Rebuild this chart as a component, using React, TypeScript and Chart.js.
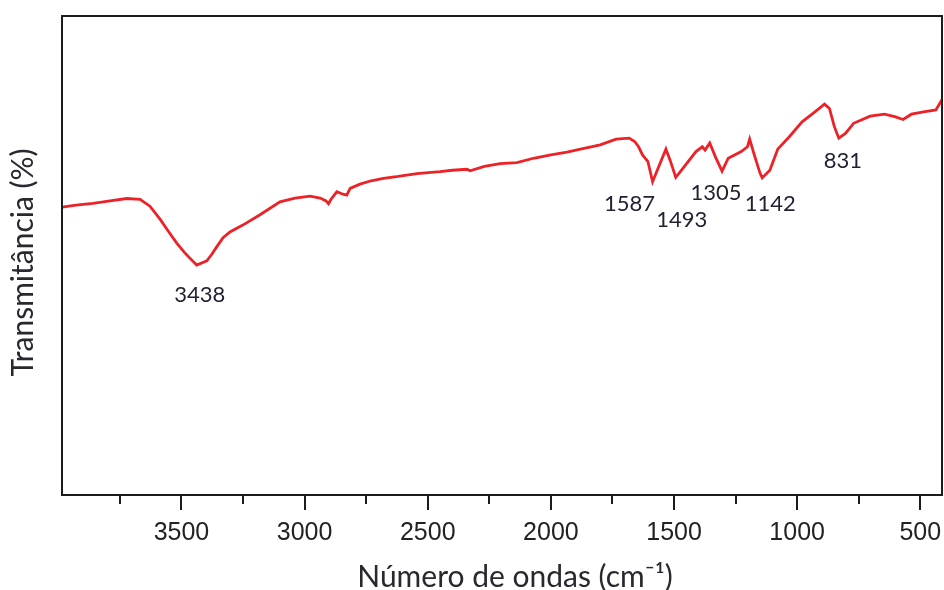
import { useEffect, useRef } from 'react';
import { Chart, registerables } from 'chart.js';

Chart.register(...registerables);

// FTIR spectrum: wavenumber (cm-1) and transmittance (arbitrary %, no scale shown)
const wavenumber = [
  3985, 3928, 3859, 3790, 3722, 3668, 3628, 3587, 3554, 3519, 3489, 3465, 3438,
  3397, 3376, 3357, 3331, 3303, 3249, 3181, 3100, 3039, 2978, 2937, 2913, 2903,
  2892, 2869, 2844, 2829, 2815, 2775, 2730, 2680, 2620, 2544, 2450, 2400, 2341,
  2328, 2270, 2206, 2138, 2071, 2000, 1935, 1870, 1800, 1735, 1682, 1660, 1644,
  1628, 1606, 1587, 1557, 1533, 1516, 1493, 1464, 1411, 1385, 1374, 1355, 1332,
  1305, 1280, 1227, 1202, 1193, 1176, 1151, 1142, 1111, 1079, 1032, 980, 928,
  889, 869, 849, 831, 804, 771, 704, 646, 604, 570, 536, 487, 437, 412,
];
const transmittance = [
  60.1, 60.5, 60.9, 61.4, 61.9, 61.7, 60.3, 57.6, 55.1, 52.6, 50.7, 49.4, 48.0,
  48.9, 50.3, 51.8, 53.7, 54.9, 56.4, 58.5, 61.2, 62.0, 62.4, 62.0, 61.4, 60.8,
  61.8, 63.3, 62.8, 62.6, 64.0, 64.9, 65.6, 66.1, 66.5, 67.1, 67.5, 67.8, 68.0,
  67.7, 68.6, 69.2, 69.4, 70.3, 71.0, 71.6, 72.3, 73.1, 74.3, 74.5, 73.8, 72.7,
  71.0, 69.6, 65.4, 69.2, 72.2, 69.9, 66.3, 68.2, 71.7, 72.7, 72.0, 73.5, 70.6,
  67.6, 70.3, 71.7, 72.7, 74.3, 71.3, 67.2, 66.2, 67.8, 72.2, 74.8, 77.9, 80.0,
  81.6, 80.7, 76.9, 74.5, 75.5, 77.6, 79.1, 79.5, 79.0, 78.4, 79.5, 80.0, 80.4, 82.5,
];

// Assigned absorption bands (cm-1)
const peakWavenumbers = [3438, 1587, 1493, 1305, 1142, 831];

// Axis ticks: every 250 cm-1, labelled every 500 cm-1
const xTickValues = [3750, 3500, 3250, 3000, 2750, 2500, 2250, 2000, 1750, 1500, 1250, 1000, 750, 500];

const xRange = { min: 412, max: 3985 };
const yRange = { min: 0, max: 100 };

const xTitle = 'Número de ondas (cm⁻¹)';
const yTitle = 'Transmitância (%)';

// Where each band label sits relative to its minimum (px)
const peakLabelOffsets: [number, number][] = [
  [3, 30], [-23, 22], [6, 42], [-6, 22], [8, 26], [4, 23],
];

const titleFont = '30px Lato, "Open Sans", sans-serif';
const titleColor = '#28282f';

const framePlugin = {
  id: 'frameAndTicks',
  afterDraw(chart: any) {
    const { ctx, chartArea: a, scales } = chart;
    const xs = scales.x;
    ctx.save();
    ctx.strokeStyle = '#1c1c1c';
    ctx.lineWidth = 2;
    ctx.strokeRect(a.left, a.top, a.right - a.left, a.bottom - a.top);
    xs.ticks.forEach((t: any) => {
      const px = Math.round(xs.getPixelForValue(t.value));
      const len = t.value % 500 === 0 ? 15 : 9;
      ctx.beginPath();
      ctx.moveTo(px, a.bottom);
      ctx.lineTo(px, a.bottom + len);
      ctx.stroke();
    });
    ctx.restore();
  },
};

const axisTitlePlugin = {
  id: 'axisTitles',
  afterDraw(chart: any) {
    const { ctx, chartArea: a } = chart;
    ctx.save();
    ctx.font = titleFont;
    ctx.fillStyle = titleColor;
    ctx.textAlign = 'center';
    ctx.textBaseline = 'alphabetic';
    ctx.fillText(xTitle, (a.left + a.right) / 2 + 13, 587);
    ctx.translate(33, (a.top + a.bottom) / 2 + 7);
    ctx.rotate(-Math.PI / 2);
    ctx.fillText(yTitle, 0, 0);
    ctx.restore();
  },
};

const peakLabelPlugin = {
  id: 'peakLabels',
  afterDatasetsDraw(chart: any) {
    const { ctx, scales } = chart;
    ctx.save();
    ctx.font = '22px Lato, "Open Sans", sans-serif';
    ctx.fillStyle = '#1f2030';
    ctx.textAlign = 'center';
    ctx.textBaseline = 'middle';
    peakWavenumbers.forEach((wn, i) => {
      const idx = wavenumber.indexOf(wn);
      const px = scales.x.getPixelForValue(wn);
      const py = scales.y.getPixelForValue(transmittance[idx]);
      const [dx, dy] = peakLabelOffsets[i];
      ctx.fillText(String(wn), px + dx, py + dy);
    });
    ctx.restore();
  },
};

export default function App() {
  const canvasRef = useRef<HTMLCanvasElement | null>(null);

  useEffect(() => {
    document.body.style.margin = '0';
    document.body.style.background = '#ffffff';
    const canvas = canvasRef.current;
    if (!canvas) return;
    const chart = new Chart(canvas, {
      type: 'line',
      data: {
        datasets: [
          {
            label: 'FTIR',
            data: wavenumber.map((w, i) => ({ x: w, y: transmittance[i] })),
            borderColor: 'rgb(236, 34, 40)',
            borderWidth: 2.8,
            pointRadius: 0,
            tension: 0,
            fill: false,
          },
        ],
      },
      options: {
        animation: false,
        responsive: false,
        devicePixelRatio: 1,
        layout: { padding: { top: 16, right: 2, left: 0, bottom: 0 } },
        plugins: {
          legend: { display: false },
          tooltip: { enabled: false },
        },
        scales: {
          x: {
            type: 'linear',
            reverse: true,
            min: xRange.min,
            max: xRange.max,
            afterBuildTicks: (scale: any) => {
              scale.ticks = xTickValues.map((v) => ({ value: v }));
            },
            afterFit: (scale: any) => {
              scale.height = 95;
              scale.paddingLeft = 0;
              scale.paddingRight = 0;
            },
            grid: { display: false },
            border: { display: false },
            ticks: {
              autoSkip: false,
              maxRotation: 0,
              padding: 15,
              color: '#222222',
              font: { family: '"Liberation Sans", Arial, sans-serif', size: 25 },
              callback: (v: any) => (Number(v) % 500 === 0 ? String(v) : ''),
            },
            title: { display: false },
          },
          y: {
            type: 'linear',
            min: yRange.min,
            max: yRange.max,
            afterFit: (scale: any) => {
              scale.width = 62;
              scale.paddingTop = 0;
              scale.paddingBottom = 0;
            },
            grid: { display: false },
            border: { display: false },
            ticks: { display: false },
            title: { display: false },
          },
        },
      },
      plugins: [framePlugin, axisTitlePlugin, peakLabelPlugin],
    });
    return () => chart.destroy();
  }, []);

  return (
    <div style={{ width: 944, height: 590, background: '#ffffff' }}>
      <canvas ref={canvasRef} width={944} height={590} />
    </div>
  );
}
